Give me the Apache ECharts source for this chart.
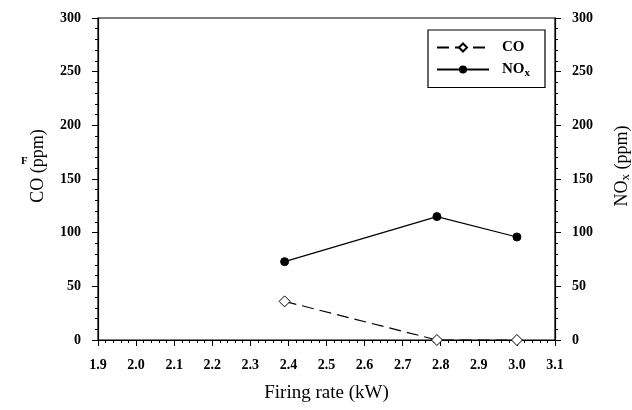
<!DOCTYPE html>
<html>
<head>
<meta charset="utf-8">
<script src="https://cdn.jsdelivr.net/npm/echarts@6/dist/echarts.min.js"></script>
<style>html,body{margin:0;padding:0;background:#fff;}#c{width:632px;height:410px;}</style>
</head>
<body>
<div id="c"></div>
<script>
var firingRate = [2.39, 2.79, 3.0];
var coValues = [36, 0, 0];
var noxValues = [73, 115, 96];
var xTicks = [1.9, 2.0, 2.1, 2.2, 2.3, 2.4, 2.5, 2.6, 2.7, 2.8, 2.9, 3.0, 3.1];
var yTicks = [0, 50, 100, 150, 200, 250, 300];

var serif = '"Liberation Serif", "DejaVu Serif", serif';
var chart = echarts.init(document.getElementById('c'));
function pairs(xs, ys) { return xs.map(function (x, i) { return [x, ys[i]]; }); }
var subRich = {
  sub: { fontFamily: serif, fontSize: 11, fontWeight: 'bold', color: '#000', padding: [7, 0, 0, 0] }
};
function yAxisCfg(pos, name) {
  return {
    type: 'value', position: pos, min: yTicks[0], max: yTicks[yTicks.length - 1], interval: 50,
    name: name, nameLocation: 'middle', nameRotate: 90, nameGap: pos === 'left' ? 51 : 58,
    nameTextStyle: { fontFamily: serif, fontSize: 18, color: '#000', padding: [0, 0, 0, 26], rich: {
      sub: { fontFamily: serif, fontSize: 13, color: '#000', padding: [6, 0, 0, 0] } } },
    axisLine: { show: true, lineStyle: { color: '#000', width: 1.2 } },
    axisTick: { show: true, inside: false, length: 6, lineStyle: { color: '#000' } },
    minorTick: { show: true, splitNumber: 5, length: 3, lineStyle: { color: '#000' } },
    axisLabel: { fontFamily: serif, fontSize: 14, fontWeight: 'bold', color: '#000', margin: 17 },
    splitLine: { show: false }
  };
}
var option = {
  animation: false,
  backgroundColor: '#fff',
  grid: { left: 98, right: 77, top: 18, bottom: 70, outerBoundsMode: 'none', containLabel: false,
    show: true, borderColor: '#000', borderWidth: 1.2 },
  xAxis: {
    type: 'value', min: xTicks[0], max: xTicks[xTicks.length - 1], interval: 0.1,
    name: 'Firing rate (kW)', nameLocation: 'middle', nameGap: 44,
    nameTextStyle: { fontFamily: serif, fontSize: 19, color: '#000' },
    axisLine: { show: true, onZero: false, lineStyle: { color: '#000', width: 1.2 } },
    axisTick: { show: true, length: 6, lineStyle: { color: '#000' } },
    minorTick: { show: true, splitNumber: 5, length: 3, lineStyle: { color: '#000' } },
    axisLabel: { fontFamily: serif, fontSize: 14, fontWeight: 'bold', color: '#000', margin: 18,
      formatter: function (v) { return (Math.round(v * 10) / 10).toFixed(1); } },
    splitLine: { show: false }
  },
  yAxis: [yAxisCfg('left', 'CO (ppm)'), yAxisCfg('right', 'NO{sub|x} (ppm)')],
  legend: {
    left: 428, top: 30, orient: 'vertical', itemWidth: 52, itemHeight: 10, itemGap: 7,
    padding: [10, 15, 9, 8], borderColor: '#000', borderWidth: 1.2, backgroundColor: '#fff',
    data: ['CO', 'NOx'],
    formatter: function (n) { return n === 'NOx' ? 'NO{sub|x}' : n; },
    textStyle: { fontFamily: serif, fontSize: 15, fontWeight: 'bold', color: '#000', padding: [0, 0, 0, 8], rich: subRich }
  },
  graphic: [{ type: 'text', left: 21, top: 156, style: { text: 'F', font: 'bold 11px ' + serif, fill: '#000' } }],
  series: [
    { name: 'CO', type: 'line', yAxisIndex: 0, data: pairs(firingRate, coValues),
      symbol: 'diamond', symbolSize: 11, showSymbol: true,
      lineStyle: { color: '#000', width: 1.2, type: [12, 6] },
      itemStyle: { color: '#fff', borderColor: '#000', borderWidth: 1 } },
    { name: 'NOx', type: 'line', yAxisIndex: 1, data: pairs(firingRate, noxValues),
      symbol: 'circle', symbolSize: 8,
      lineStyle: { color: '#000', width: 1.2, type: 'solid' },
      itemStyle: { color: '#000', borderColor: '#000' } }
  ]
};
chart.setOption(option);
</script>
</body>
</html>
